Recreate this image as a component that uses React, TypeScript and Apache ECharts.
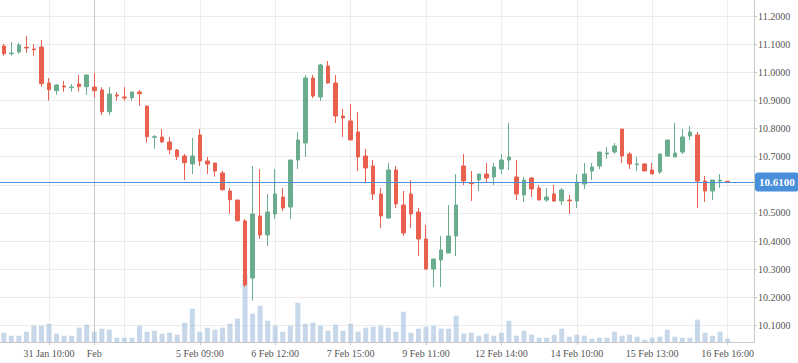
import React, { useEffect, useRef } from "react";
import * as echarts from "echarts";

const opens = [
  11.0934, 11.066, 11.072, 11.0888, 11.0827, 11.0898, 10.9618, 10.9345, 10.9512, 10.9451,
  10.9583, 10.9487, 10.9476, 10.937, 10.8598, 10.9192, 10.9121, 10.9096, 10.9299, 10.8801,
  10.7688, 10.7699, 10.7521, 10.7237, 10.7023, 10.6739, 10.777, 10.6846, 10.6775, 10.6419,
  10.5779, 10.5459, 10.4713, 10.2686, 10.4891, 10.4215, 10.4962, 10.5566, 10.521, 10.6881,
  10.7486, 10.9796, 10.9121, 11.0223, 10.9618, 10.8445, 10.8268, 10.7877, 10.7023, 10.6668,
  10.5672, 10.482, 10.6526, 10.5281, 10.5672, 10.5033, 10.4073, 10.3006, 10.3326, 10.3575,
  10.4179, 10.6668, 10.6074, 10.617, 10.6383, 10.6277, 10.6561, 10.6881, 10.6277, 10.5637,
  10.6241, 10.5886, 10.5459, 10.5672, 10.5424, 10.5459, 10.5424, 10.6028, 10.649, 10.6668,
  10.7094, 10.7166, 10.7983, 10.7094, 10.6714, 10.6739, 10.6526, 10.6455, 10.7023, 10.6988,
  10.7166, 10.7734, 10.777, 10.6135, 10.5779, 10.6135, 10.6125,
];
const closes = [
  11.066, 11.0685, 11.0969, 11.0863, 11.0802, 10.9594, 10.938, 10.9547, 10.9476, 10.9476,
  10.9487, 10.9903, 10.9345, 10.8598, 10.9227, 10.9156, 10.9085, 10.9299, 10.9238, 10.7709,
  10.7709, 10.7521, 10.7247, 10.6999, 10.6785, 10.7023, 10.6846, 10.6739, 10.649, 10.5825,
  10.547, 10.4723, 10.2437, 10.4962, 10.4215, 10.5033, 10.5672, 10.5175, 10.6881, 10.7592,
  10.9796, 10.9156, 11.0258, 10.9618, 10.8445, 10.8374, 10.7592, 10.6988, 10.6597, 10.5672,
  10.4891, 10.6526, 10.5317, 10.4286, 10.4962, 10.4073, 10.3006, 10.3362, 10.3682, 10.4179,
  10.5281, 10.6135, 10.6039, 10.6383, 10.6241, 10.6632, 10.6881, 10.6988, 10.5672, 10.617,
  10.585, 10.5459, 10.5566, 10.5424, 10.5815, 10.5434, 10.6063, 10.6383, 10.6632, 10.7166,
  10.713, 10.7379, 10.7023, 10.6739, 10.6739, 10.649, 10.6383, 10.7094, 10.7592, 10.713,
  10.7699, 10.7877, 10.6135, 10.5779, 10.617, 10.617, 10.61,
];
const lows = [
  11.0589, 11.0589, 11.066, 11.0696, 11.0589, 10.9487, 10.8989, 10.9202, 10.9309, 10.9309,
  10.9309, 10.9202, 10.9096, 10.8481, 10.8481, 10.8989, 10.8989, 10.8989, 10.8811, 10.7496,
  10.7283, 10.7486, 10.7094, 10.6881, 10.617, 10.6383, 10.6668, 10.6383, 10.6288, 10.579,
  10.4972, 10.4688, 10.2366, 10.188, 10.4073, 10.3824, 10.4784, 10.5068, 10.4784, 10.6561,
  10.6988, 10.9085, 10.8979, 10.9583, 10.8196, 10.7699, 10.7592, 10.649, 10.6063, 10.5459,
  10.4464, 10.4784, 10.5175, 10.4179, 10.4464, 10.3464, 10.2971, 10.2366, 10.2366, 10.3575,
  10.3464, 10.5992, 10.5424, 10.5779, 10.6063, 10.5992, 10.6383, 10.6526, 10.5459, 10.5388,
  10.5566, 10.5459, 10.5388, 10.5388, 10.5281, 10.4962, 10.5175, 10.585, 10.617, 10.6561,
  10.6917, 10.7094, 10.6775, 10.6561, 10.649, 10.649, 10.6383, 10.6383, 10.6988, 10.6988,
  10.7094, 10.7592, 10.5175, 10.5388, 10.5459, 10.5886, 10.609,
];
const highs = [
  11.1005, 11.1076, 11.104, 11.1289, 11.1005, 11.1147, 10.9796, 10.9583, 10.969, 10.9583,
  10.9903, 10.9903, 10.9974, 10.9466, 10.9476, 10.9288, 10.9476, 10.9299, 10.937, 10.8801,
  10.777, 10.7983, 10.7699, 10.7272, 10.7094, 10.7663, 10.7983, 10.6988, 10.6775, 10.649,
  10.5886, 10.5459, 10.4784, 10.6668, 10.6561, 10.5672, 10.6561, 10.5886, 10.6881, 10.7877,
  10.9903, 10.9903, 11.0294, 11.0401, 10.9903, 10.8694, 10.8872, 10.8587, 10.7272, 10.6881,
  10.5886, 10.6775, 10.6668, 10.5779, 10.617, 10.5175, 10.4571, 10.3362, 10.4179, 10.5281,
  10.6383, 10.7094, 10.649, 10.6383, 10.6775, 10.6775, 10.7094, 10.8196, 10.6881, 10.6277,
  10.6277, 10.5992, 10.5886, 10.5992, 10.5886, 10.5637, 10.6383, 10.6775, 10.6775, 10.7166,
  10.7343, 10.7486, 10.7983, 10.7166, 10.6988, 10.6775, 10.6775, 10.7094, 10.7592, 10.8196,
  10.7983, 10.809, 10.7877, 10.6312, 10.617, 10.6383, 10.6125,
];
const volumes = [
  930, 630, 630, 1030, 1630, 1630, 1830, 830, 630, 630, 1430, 1730, 1030, 1330, 1230, 430,
  430, 430, 1630, 1030, 1130, 830, 930, 730, 1930, 3330, 1030, 1430, 1230, 1430, 1830, 2330,
  6800, 2830, 3630, 2130, 1630, 1030, 1630, 3930, 1830, 1930, 1630, 1130, 1730, 1130, 1830,
  1030, 1430, 1530, 1630, 1430, 1030, 3030, 930, 1330, 1530, 1630, 1330, 1330, 2630, 830,
  930, 630, 830, 630, 930, 2130, 630, 1130, 730, 430, 430, 730, 1330, 530, 730, 630, 330,
  430, 430, 1030, 630, 730, 530, 230, 430, 530, 1230, 530, 430, 430, 2230, 930, 630, 1030, 330,
];

const slotCount = 100;
const categories = Array.from({ length: slotCount }, (_, i) => String(i));
const tickIndices = [6, 12, 26, 36, 46, 56, 66, 76, 86, 96];
const tickLabels = [
  "31 Jan 10:00", "Feb", "5 Feb 09:00", "6 Feb 12:00", "7 Feb 15:00",
  "9 Feb 11:00", "12 Feb 14:00", "14 Feb 10:00", "15 Feb 13:00", "16 Feb 16:00",
];
const gridLineIndices = [6, 12, 16, 26, 36, 46, 56, 66, 76, 86, 96];
const monthIndex = 12;
const yMin = 10.0411;
const yMax = 11.2569;
const lastPrice = 10.61;

const UP = "#6aad8e";
const DOWN = "#e9604e";
const FONT = "Liberation Serif";

export default function App() {
  const ref = useRef<HTMLDivElement>(null);
  useEffect(() => {
    const chart = echarts.init(ref.current!, null, { renderer: "svg" });
    const candleData = opens.map((o, i) => [o, closes[i], lows[i], highs[i]]);
    const isTick = (i: number) => tickIndices.indexOf(i) >= 0;
    chart.setOption({
      animation: false,
      textStyle: { fontFamily: FONT },
      grid: [
        { left: 0, right: 44, top: 0, bottom: 21 },
        { left: 0, right: 44, top: 262, bottom: 21 },
      ],
      xAxis: [
        {
          type: "category",
          gridIndex: 0,
          data: categories,
          boundaryGap: true,
          axisLine: { show: false },
          axisTick: { show: false },
          axisLabel: { show: false },
          splitLine: {
            show: true,
            interval: (i: number) => gridLineIndices.indexOf(i) >= 0,
            alignWithLabel: true,
            lineStyle: {
              width: 1,
              color: gridLineIndices.map((i) => (i === monthIndex ? "#c8c8c8" : "#ececec")),
            },
          },
        },
        {
          type: "category",
          gridIndex: 1,
          data: categories,
          boundaryGap: true,
          axisLine: { show: true, lineStyle: { color: "#c8c8c8" } },
          axisTick: {
            show: true,
            alignWithLabel: true,
            interval: (i: number) => isTick(i),
            length: 3,
            lineStyle: { color: "#c8c8c8" },
          },
          axisLabel: {
            show: true,
            interval: (i: number) => isTick(i),
            formatter: (v: string) => {
              const k = tickIndices.indexOf(Number(v));
              return k >= 0 ? tickLabels[k] : "";
            },
            fontSize: 10,
            color: "#555",
            margin: 6,
            fontFamily: FONT,
          },
          splitLine: { show: false },
        },
      ],
      yAxis: [
        {
          type: "value",
          gridIndex: 0,
          position: "right",
          min: yMin,
          max: yMax,
          splitNumber: 12,
          minInterval: 0.1,
          maxInterval: 0.1,
          axisLine: { show: true, lineStyle: { color: "#c8c8c8" } },
          axisTick: { show: true, length: 3, lineStyle: { color: "#c8c8c8" } },
          axisLabel: {
            showMinLabel: false,
            showMaxLabel: false,
            // the 10.6 label sits under the last-price badge, as in the reference
            formatter: (v: number) => (Math.abs(v - 10.6) < 0.03 ? "" : v.toFixed(4)),
            fontSize: 10,
            color: "#555",
            margin: 4,
            fontFamily: FONT,
          },
          splitLine: {
            show: true,
            showMinLine: false,
            showMaxLine: false,
            lineStyle: { color: "#ececec" },
          },
        },
        { type: "value", gridIndex: 1, min: 0, max: 8000, show: false },
      ],
      series: [
        {
          type: "candlestick",
          xAxisIndex: 0,
          yAxisIndex: 0,
          data: candleData,
          barWidth: 4,
          itemStyle: {
            color: UP,
            color0: DOWN,
            borderColor: UP,
            borderColor0: DOWN,
            borderWidth: 1,
          },
          markLine: {
            silent: true,
            symbol: "none",
            data: [{ yAxis: lastPrice }],
            lineStyle: { color: "#4a8fda", width: 1, type: "solid" },
            label: {
              show: true,
              position: "end",
              distance: 1,
              formatter: () => lastPrice.toFixed(4),
              backgroundColor: "#4a8fda",
              color: "#fff",
              fontWeight: "bold",
              fontSize: 11,
              fontFamily: FONT,
              padding: [4, 4, 4, 4],
              borderRadius: 3,
            },
            emphasis: { disabled: true },
          },
        },
        {
          type: "bar",
          xAxisIndex: 1,
          yAxisIndex: 1,
          data: volumes,
          barWidth: 5,
          silent: true,
          itemStyle: { color: "rgba(160,190,220,0.6)" },
        },
      ],
    });
    return () => chart.dispose();
  }, []);
  return (
    <div
      ref={ref}
      style={{ position: "absolute", left: 0, top: 0, width: 798, height: 363 }}
    />
  );
}
